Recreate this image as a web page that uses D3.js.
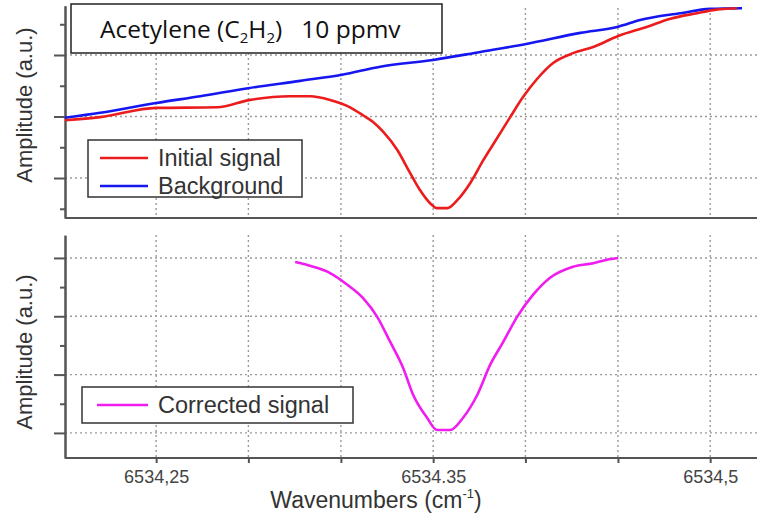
<!DOCTYPE html>
<html>
<head>
<meta charset="utf-8">
<script src="https://cdn.jsdelivr.net/npm/d3@7"></script>
<style>
  body { margin: 0; background: #fff; }
  svg { display: block; }
  .grid line { stroke: #9a9a9a; stroke-width: 1.4; stroke-dasharray: 2,3; }
  .axis path, .axis line { stroke: #555; stroke-width: 2; }
</style>
</head>
<body>
<div id="chart"></div>
<script>

// x grid / tick positions (wavenumbers, cm-1)
var xGrid = [6534.25, 6534.2833, 6534.3167, 6534.35, 6534.3833, 6534.4167, 6534.45];
var xLabelValues = [6534.25, 6534.35, 6534.45];
var xLabels = ["6534,25", "6534.35", "6534,5"];

// amplitude ticks (a.u.)
var topMajor = [0, 1, 2];
var topMinor = [-0.5, 0.5, 1.5, 2.5];
var botMajor = [0, 1, 2, 3];
var botMinor = [0.5, 1.5, 2.5];

// series, [wavenumber, amplitude]
var initialSignal = [
  [6534.2171, 0.94], [6534.2298, 0.99], [6534.2500, 1.14], [6534.2720, 1.15],
  [6534.2839, 1.27], [6534.2984, 1.33], [6534.3056, 1.33], [6534.3128, 1.27],
  [6534.3200, 1.15], [6534.3247, 1.02], [6534.3283, 0.91], [6534.3320, 0.75],
  [6534.3370, 0.46], [6534.3417, 0.08], [6534.3453, -0.20], [6534.3489, -0.41],
  [6534.3514, -0.49], [6534.3551, -0.49], [6534.3587, -0.36], [6534.3634, -0.08],
  [6534.3681, 0.29], [6534.3731, 0.65], [6534.3778, 0.99], [6534.3825, 1.32],
  [6534.3875, 1.61], [6534.3933, 1.87], [6534.4005, 2.03], [6534.4078, 2.13],
  [6534.4168, 2.31], [6534.4273, 2.46], [6534.4356, 2.59], [6534.4453, 2.68],
  [6534.4511, 2.73], [6534.4597, 2.76]
];

var background = [
  [6534.2171, 0.98], [6534.2298, 1.06], [6534.2500, 1.22], [6534.2659, 1.33],
  [6534.2832, 1.46], [6534.3020, 1.58], [6534.3171, 1.68], [6534.3309, 1.81],
  [6534.3500, 1.92], [6534.3670, 2.05], [6534.3836, 2.18], [6534.4031, 2.36],
  [6534.4168, 2.46], [6534.4247, 2.57], [6534.4392, 2.68], [6534.4500, 2.75],
  [6534.4615, 2.76]
];

var correctedSignal = [
  [6534.3002, 2.93], [6534.3067, 2.85], [6534.3128, 2.74], [6534.3190, 2.54],
  [6534.3247, 2.31], [6534.3298, 1.99], [6534.3345, 1.56], [6534.3392, 1.11],
  [6534.3428, 0.65], [6534.3478, 0.26], [6534.3514, 0.05], [6534.3561, 0.05],
  [6534.3608, 0.26], [6534.3659, 0.65], [6534.3706, 1.17], [6534.3753, 1.56],
  [6534.3803, 1.99], [6534.3861, 2.37], [6534.3922, 2.66], [6534.4005, 2.85],
  [6534.4078, 2.91], [6534.4128, 2.97], [6534.4168, 3.00]
];

var width = 770, height = 517;
var left = 65, right = 757;
var sans = "Liberation Sans, Arial, sans-serif";

var svg = d3.select("#chart").append("svg")
    .attr("width", width)
    .attr("height", height);

svg.append("rect").attr("width", width).attr("height", height).attr("fill", "#fff");

var xScale = d3.scaleLinear()
    .domain([6534.2171, 6534.4669])
    .range([left, right]);

var yTop = d3.scaleLinear()
    .domain([-0.65, 2.8])
    .range([218, 5.8]);

var yBot = d3.scaleLinear()
    .domain([-0.43, 3.39])
    .range([458, 235.2]);

function drawPanel(yScale, major, minor, top, bottom){
    var g = svg.append("g");

    // grid
    var grid = g.append("g").attr("class", "grid");
    grid.selectAll(".gx").data(xGrid).enter().append("line")
        .attr("x1", function(d){ return xScale(d); })
        .attr("x2", function(d){ return xScale(d); })
        .attr("y1", top)
        .attr("y2", bottom);
    grid.selectAll(".gy").data(major).enter().append("line")
        .attr("x1", left)
        .attr("x2", right)
        .attr("y1", function(d){ return yScale(d); })
        .attr("y2", function(d){ return yScale(d); });

    // left axis, major and minor ticks
    g.append("g")
        .attr("class", "axis")
        .attr("transform", "translate(" + left + ",0)")
        .call(d3.axisLeft(yScale).tickValues(major).tickSize(11).tickSizeOuter(0).tickFormat(""));
    g.append("g")
        .attr("class", "axis")
        .attr("transform", "translate(" + left + ",0)")
        .call(d3.axisLeft(yScale).tickValues(minor).tickSize(5).tickSizeOuter(0).tickFormat(""));

    // bottom line
    g.append("line")
        .attr("x1", left).attr("x2", right)
        .attr("y1", bottom).attr("y2", bottom)
        .attr("stroke", "#555").attr("stroke-width", 2);

    return g;
}

var gTop = drawPanel(yTop, topMajor, topMinor, 8, 218);
var gBot = drawPanel(yBot, botMajor, botMinor, 235, 458);

// x axis with labels on lower panel
var xAxis = svg.append("g")
    .attr("class", "axis")
    .attr("transform", "translate(0,458)")
    .call(d3.axisBottom(xScale).tickValues(xGrid).tickSize(5).tickSizeOuter(0)
        .tickFormat(function(d){
            var i = xLabelValues.indexOf(d);
            return i < 0 ? "" : xLabels[i];
        }));
xAxis.select(".domain").remove();
xAxis.selectAll("text")
    .attr("y", 25)
    .attr("dy", 0)
    .attr("fill", "#444")
    .attr("font-family", sans)
    .attr("font-size", 18);

// lines
function lineFor(yScale){
    return d3.line()
        .x(function(d){ return xScale(d[0]); })
        .y(function(d){ return yScale(d[1]); })
        .curve(d3.curveMonotoneX);
}

gTop.append("path")
    .datum(background)
    .attr("fill", "none")
    .attr("stroke", "#1616f0")
    .attr("stroke-width", 2.6)
    .attr("d", lineFor(yTop));

gTop.append("path")
    .datum(initialSignal)
    .attr("fill", "none")
    .attr("stroke", "#ec1c1c")
    .attr("stroke-width", 2.6)
    .attr("d", lineFor(yTop));

gBot.append("path")
    .datum(correctedSignal)
    .attr("fill", "none")
    .attr("stroke", "#f01cf0")
    .attr("stroke-width", 2.6)
    .attr("d", lineFor(yBot));

// title box
svg.append("rect")
    .attr("x", 71).attr("y", 4)
    .attr("width", 371).attr("height", 49)
    .attr("fill", "#fff").attr("stroke", "#222").attr("stroke-width", 1.5);

var title = svg.append("text")
    .attr("x", 100).attr("y", 38)
    .attr("font-family", "Open Sans, Lato, sans-serif")
    .attr("font-size", 24.5)
    .attr("fill", "#111");
title.append("tspan").text("Acetylene (C");
title.append("tspan").attr("font-size", 15).attr("dy", 5).text("2");
title.append("tspan").attr("dy", -5).text("H");
title.append("tspan").attr("font-size", 15).attr("dy", 5).text("2");
title.append("tspan").attr("dy", -5).text(")\u00a0\u00a0\u00a010 ppmv");

// legends
function legend(x, y, w, h, inset, items){
    svg.append("rect")
        .attr("x", x).attr("y", y).attr("width", w).attr("height", h)
        .attr("fill", "#fff").attr("stroke", "#333").attr("stroke-width", 1.5);
    items.forEach(function(it){
        svg.append("line")
            .attr("x1", x + inset).attr("x2", 148)
            .attr("y1", it.y).attr("y2", it.y)
            .attr("stroke", it.color).attr("stroke-width", 2.6);
        svg.append("text")
            .attr("x", 158).attr("y", it.y + 8)
            .attr("font-family", sans)
            .attr("font-size", 23.5)
            .attr("fill", "#333")
            .text(it.label);
    });
}

legend(88, 140, 214, 57, 12, [
    {label: "Initial signal", color: "#ec1c1c", y: 158},
    {label: "Background", color: "#1616f0", y: 186}
]);
legend(82, 387, 271, 36, 15, [
    {label: "Corrected signal", color: "#f01cf0", y: 405}
]);

// axis titles
[105, 352].forEach(function(cy){
    svg.append("text")
        .attr("transform", "translate(32," + cy + ") rotate(-90)")
        .attr("text-anchor", "middle")
        .attr("font-family", sans)
        .attr("font-size", 22)
        .attr("fill", "#333")
        .text("Amplitude (a.u.)");
});

var xt = svg.append("text")
    .attr("x", 376).attr("y", 508)
    .attr("text-anchor", "middle")
    .attr("font-family", sans)
    .attr("font-size", 23)
    .attr("fill", "#333");
xt.append("tspan").text("Wavenumbers (cm");
xt.append("tspan").attr("font-size", 13).attr("dy", -10).text("-1");
xt.append("tspan").attr("dy", 10).text(")");

</script>
</body>
</html>
